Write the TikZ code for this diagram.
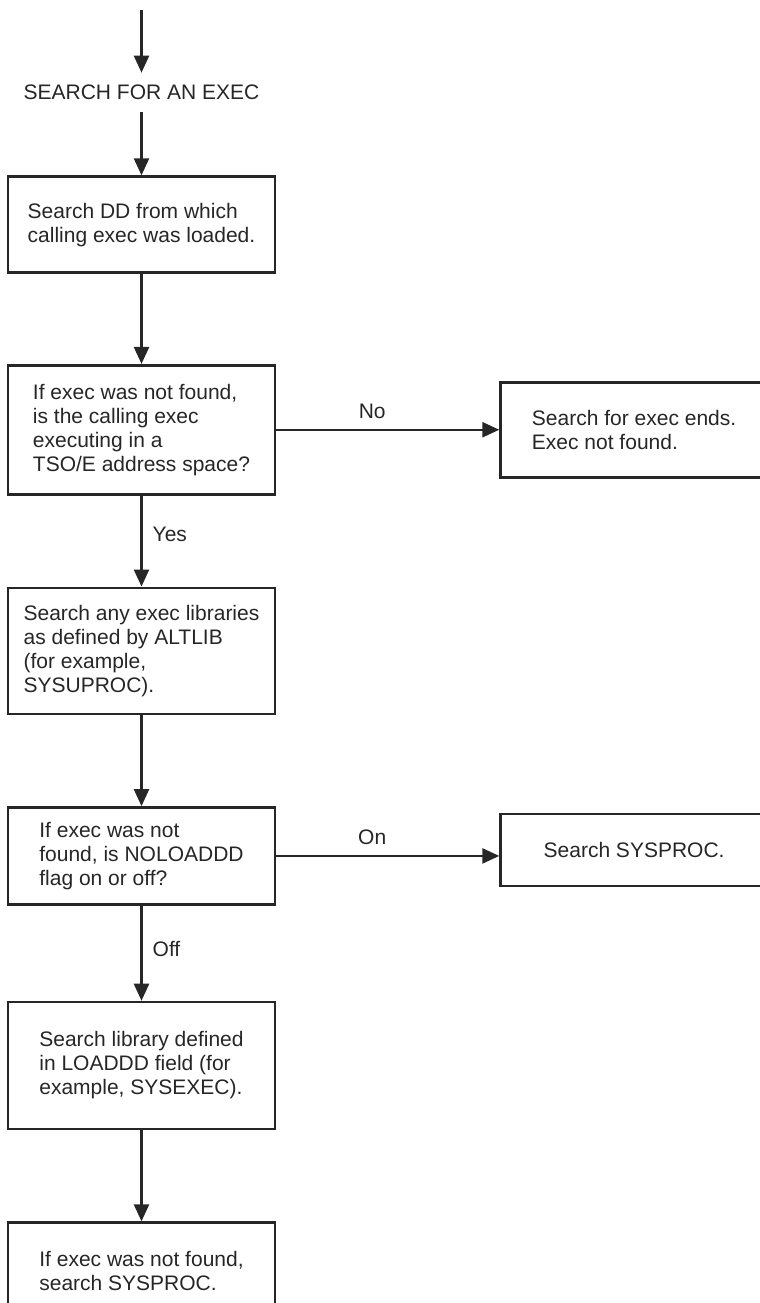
\documentclass[tikz,border=0pt]{standalone}
\usepackage{fontspec}
\setmainfont{Liberation Sans}
\usetikzlibrary{shapes,arrows.meta,positioning}
\definecolor{ink}{HTML}{262626}
\tikzstyle{box}=[rectangle,draw=ink,line width=1.3pt,text=ink,align=left,minimum width=133.5pt,font=\fontsize{10.5pt}{12pt}\selectfont]
\tikzstyle{head}=[text=ink,inner xsep=0pt,inner ysep=6pt,font=\fontsize{10.5pt}{12pt}\selectfont]
\tikzstyle{tag}=[text=ink,inner sep=5pt,font=\fontsize{10.5pt}{12pt}\selectfont]
\tikzstyle{arr}=[-{Triangle[length=8.5pt,width=7.5pt]},line width=1.2pt,draw=ink]

\begin{document}
\begin{tikzpicture}[x=0.5pt,y=-0.5pt,node distance=45pt]
\useasboundingbox (0,0) rectangle (760,1303);
\coordinate (in) at (141.5,10);
\node[head] (T) at (141.5,92.5) {SEARCH FOR AN EXEC};
\node[box, minimum height=48pt, below=31.5pt of T] (A) {Search DD from which\\calling exec was loaded.};
\node[box, minimum height=64.5pt, below=45pt of A] (B) {If exec was not found,\\is the calling exec\\executing in a\\TSO/E address space?};
\node[box, minimum height=47.5pt, right=111.5pt of B] (C) {Search for exec ends.\\Exec not found.};
\node[box, minimum height=63pt, below=45.5pt of B] (D) {Search any exec libraries\\as defined by ALTLIB\\(for example,\\SYSUPROC).};
\node[box, minimum height=48.5pt, below=45.5pt of D] (E) {If exec was not\\found, is NOLOADDD\\flag on or off?};
\node[box, minimum height=36pt, right=111.5pt of E, yshift=3pt] (F) {Search SYSPROC.};
\node[box, minimum height=63.5pt, below=47.5pt of E] (G) {Search library defined\\in LOADDD field (for\\example, SYSEXEC).};
\node[box, minimum height=48.5pt, below=45.5pt of G] (H) {If exec was not found,\\search SYSPROC.};
\draw[arr] (in) -- (T);
\draw[arr] (T) -- (A);
\draw[arr] (A) -- (B);
\draw[arr] (B) -- node[tag,above,pos=0.43] {No} (C);
\draw[arr] (B) -- node[tag,right,pos=0.43] {Yes} (D);
\draw[arr] (D) -- (E);
\draw[arr] (E.east) -- node[tag,above,pos=0.43] {On} (E.east -| F.west);
\draw[arr] (E) -- node[tag,right,pos=0.46] {Off} (G);
\draw[arr] (G) -- (H);
\end{tikzpicture}
\end{document}
